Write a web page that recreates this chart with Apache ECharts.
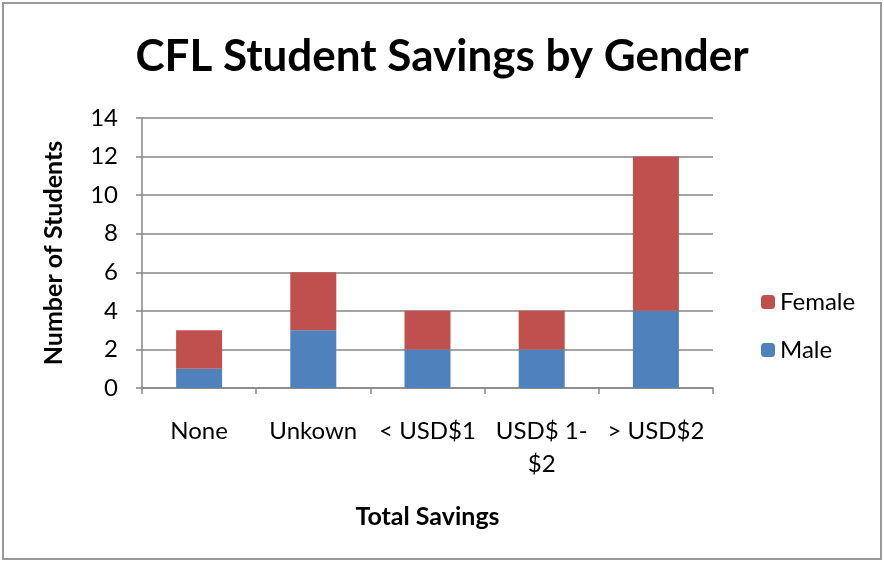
<!DOCTYPE html>
<html>
<head>
<meta charset="UTF-8">
<script src="https://cdn.jsdelivr.net/npm/echarts@6/dist/echarts.min.js"></script>
<style>
html, body { margin: 0; padding: 0; background: #fff; }
#main { width: 884px; height: 562px; }
</style>
</head>
<body>
<div id="main"></div>
<script type="text/javascript">
var categories = ['None', 'Unkown', '< USD$1', 'USD$ 1-\n$2', '> USD$2'];
var maleValues = [1, 3, 2, 2, 4];
var femaleValues = [2, 3, 2, 2, 8];
var seriesNames = ['Male', 'Female'];

var font = 'Lato, "Open Sans", sans-serif';
var myChart = echarts.init(document.getElementById('main'));

var option = {
    backgroundColor: '#fff',
    animation: false,
    title: {
        text: 'CFL Student Savings by Gender',
        left: 'center',
        top: 30,
        textStyle: { fontFamily: font, fontSize: 44, fontWeight: 'bold', color: '#000' }
    },
    graphic: [{
        type: 'rect',
        shape: { x: 3, y: 3, width: 878, height: 556 },
        style: { fill: 'none', stroke: '#999', lineWidth: 2 }
    }],
    legend: {
        orient: 'vertical',
        left: 756,
        top: 285,
        itemWidth: 14,
        itemHeight: 14,
        itemGap: 24,
        data: ['Female', 'Male'],
        textStyle: { fontFamily: font, fontSize: 24, color: '#000' }
    },
    grid: {
        left: 142,
        right: 171,
        top: 118,
        bottom: 174,
        containLabel: false
    },
    xAxis: {
        type: 'category',
        data: categories,
        name: 'Total Savings',
        nameLocation: 'middle',
        nameGap: 116,
        nameTextStyle: { fontFamily: font, fontSize: 25, fontWeight: 'bold', color: '#000' },
        axisLine: { lineStyle: { color: '#868686', width: 1.5 } },
        axisTick: { show: true, length: 6, lineStyle: { color: '#868686', width: 1.5 } },
        axisLabel: { fontFamily: font, fontSize: 24, color: '#000', margin: 27, lineHeight: 33, interval: 0 }
    },
    yAxis: {
        type: 'value',
        min: 0,
        max: 14,
        interval: 2,
        name: 'Number of Students',
        nameLocation: 'middle',
        nameGap: 76,
        nameTextStyle: { fontFamily: font, fontSize: 25, fontWeight: 'bold', color: '#000' },
        axisLine: { show: true, lineStyle: { color: '#868686', width: 1.5 } },
        axisTick: { show: true, length: 6, lineStyle: { color: '#868686', width: 1.5 } },
        axisLabel: { fontFamily: font, fontSize: 24, color: '#000', margin: 24 },
        splitLine: { lineStyle: { color: '#868686', width: 1.5 } }
    },
    series: [
        {
            name: seriesNames[0],
            type: 'bar',
            stack: 'total',
            barWidth: 46,
            itemStyle: { color: '#4F81BD' },
            data: maleValues
        },
        {
            name: seriesNames[1],
            type: 'bar',
            stack: 'total',
            barWidth: 46,
            itemStyle: { color: '#C0504D' },
            data: femaleValues
        }
    ]
};

myChart.setOption(option);
</script>
</body>
</html>
